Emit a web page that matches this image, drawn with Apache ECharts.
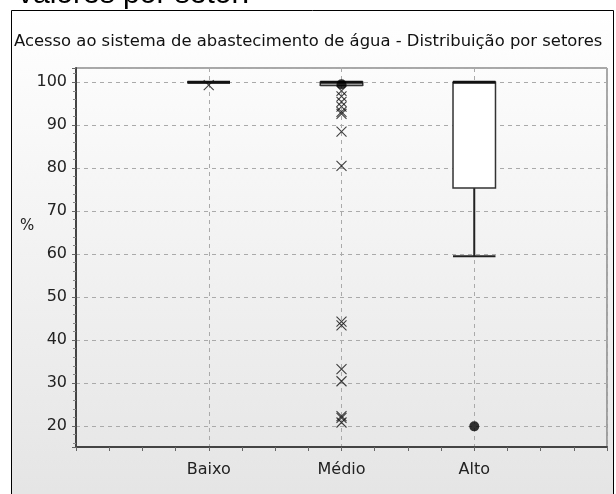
<!DOCTYPE html>
<html>
<head>
<meta charset="utf-8">
<script src="https://cdn.jsdelivr.net/npm/echarts@6/dist/echarts.min.js"></script>
<style>
  html, body { margin: 0; padding: 0; background: #fff; }
  #chart { width: 616px; height: 494px; }
</style>
</head>
<body>
<div id="chart"></div>
<script>
// Sectors on the horizontal axis (placed at x = 1, 2, 3)
const categories = ['Baixo', 'Médio', 'Alto'];

// Box statistics per sector: [lower whisker, Q1, median, Q3, upper whisker]
const boxBaixo = [100, 100, 100, 100, 100];
const boxMedio = [99.3, 99.3, 100, 100, 100];
const boxAlto = [59.5, 75.4, 100, 100, 100];

// Outliers drawn as crosses
const crossBaixo = [99.3];
const crossMedio = [98.0, 96.7, 95.4, 94.3, 93.1, 92.6, 88.5, 80.5, 44.3, 43.4, 33.2, 30.4, 22.3, 21.9, 20.8];
const crossAlto = [];

// Extreme outliers drawn as filled dots
const dotBaixo = [];
const dotMedio = [99.5];
const dotAlto = [19.9];

const yTickValues = [20, 30, 40, 50, 60, 70, 80, 90, 100];

const boxes = [boxBaixo, boxMedio, boxAlto];
const crosses = [crossBaixo, crossMedio, crossAlto];
const dots = [dotBaixo, dotMedio, dotAlto];

const boxData = boxes.map((b, i) => [i + 1].concat(b));
const crossData = [];
crosses.forEach((arr, i) => arr.forEach(v => crossData.push([i + 1, v])));
const dotData = [];
dots.forEach((arr, i) => arr.forEach(v => dotData.push([i + 1, v])));

const chart = echarts.init(document.getElementById('chart'), null, { renderer: 'canvas' });

const BOX_HALF = 0.16; // half box width in x-axis units

function renderBox(params, api) {
  const x = api.value(0);
  const low = api.coord([x, api.value(1)]);
  const q1 = api.coord([x, api.value(2)]);
  const med = api.coord([x, api.value(3)]);
  const q3 = api.coord([x, api.value(4)]);
  const high = api.coord([x, api.value(5)]);
  const left = api.coord([x - BOX_HALF, 0])[0];
  const right = api.coord([x + BOX_HALF, 0])[0];
  const cx = low[0];
  const stroke = { stroke: '#222', lineWidth: 2, fill: null };
  const children = [
    { type: 'line', shape: { x1: cx, y1: q1[1], x2: cx, y2: low[1] }, style: stroke },
    { type: 'line', shape: { x1: cx, y1: q3[1], x2: cx, y2: high[1] }, style: stroke },
    { type: 'line', shape: { x1: left, y1: low[1], x2: right, y2: low[1] }, style: stroke },
    { type: 'line', shape: { x1: left, y1: high[1], x2: right, y2: high[1] }, style: stroke },
    { type: 'rect', shape: { x: left, y: q3[1], width: right - left, height: q1[1] - q3[1] },
      style: { fill: '#fff', stroke: '#333', lineWidth: 1.5 } },
    { type: 'line', shape: { x1: left, y1: med[1], x2: right, y2: med[1] },
      style: { stroke: '#111', lineWidth: 3 } }
  ];
  return { type: 'group', children: children };
}

const option = {
  animation: false,
  textStyle: { fontFamily: 'DejaVu Sans' },
  graphic: [
    {
      type: 'rect', z: -10, silent: true,
      shape: { x: 11.5, y: 10.5, width: 602, height: 500 },
      style: {
        stroke: '#000', lineWidth: 1,
        fill: new echarts.graphic.LinearGradient(0, 0, 0, 1, [
          { offset: 0, color: '#ffffff' },
          { offset: 1, color: '#e4e4e4' }
        ])
      }
    },
    {
      type: 'text', z: 5, left: 18, top: -20,
      style: { text: 'valores por setor:', font: '30px "Liberation Sans"', fill: '#000' }
    },
    {
      type: 'text', z: 5, left: 14, top: 34,
      style: { text: 'Acesso ao sistema de abastecimento de água - Distribuição por setores',
        font: '16.4px "DejaVu Sans"', fill: '#111' }
    },
    {
      type: 'text', z: 5, left: 20, top: 219,
      style: { text: '%', font: '15px "DejaVu Sans"', fill: '#222' }
    }
  ],
  grid: {
    left: 76, right: 9, top: 68, bottom: 47,
    show: true, borderColor: '#555', borderWidth: 1, backgroundColor: 'transparent'
  },
  xAxis: {
    type: 'value', min: 0, max: 4, interval: 1,
    axisLine: { show: true, onZero: false, lineStyle: { color: '#444', width: 2 } },
    axisTick: { show: true, length: 4, lineStyle: { color: '#666' } },
    minorTick: { show: true, splitNumber: 4, length: 4, lineStyle: { color: '#666' } },
    axisLabel: {
      margin: 15, fontSize: 16, color: '#222', fontFamily: 'DejaVu Sans',
      formatter: v => categories[Math.round(v) - 1] || ''
    },
    splitLine: { show: true, lineStyle: { color: '#aaa', type: [4, 4], width: 1 } }
  },
  yAxis: {
    type: 'value', min: 15.1, max: 103.3, splitNumber: 9,
    minInterval: 10, maxInterval: 10,
    axisLine: { show: true, lineStyle: { color: '#444', width: 2 } },
    axisTick: { show: true, length: 4, lineStyle: { color: '#666' } },
    minorTick: { show: true, splitNumber: 5, length: 3, lineStyle: { color: '#888' } },
    axisLabel: {
      margin: 9, fontSize: 16, color: '#222', fontFamily: 'DejaVu Sans',
      showMinLabel: false, showMaxLabel: false,
      formatter: v => (yTickValues.indexOf(Math.round(v * 100) / 100) >= 0 ? String(v) : '')
    },
    splitLine: { show: true, lineStyle: { color: '#aaa', type: [4, 4], width: 1 } }
  },
  series: [
    {
      type: 'custom', name: 'box', renderItem: renderBox, data: boxData,
      encode: { x: 0, y: [1, 2, 3, 4, 5] }, z: 3, clip: false
    },
    {
      type: 'scatter', name: 'outliers', data: crossData, z: 4,
      symbol: 'path://M0,0L10,10M10,0L0,10', symbolSize: 10,
      itemStyle: { color: 'none', borderColor: '#111', borderWidth: 1.1 }
    },
    {
      type: 'scatter', name: 'extremes', data: dotData, z: 5,
      symbol: 'circle', symbolSize: 10,
      itemStyle: { color: '#000' }
    }
  ]
};

chart.setOption(option);
</script>
</body>
</html>
